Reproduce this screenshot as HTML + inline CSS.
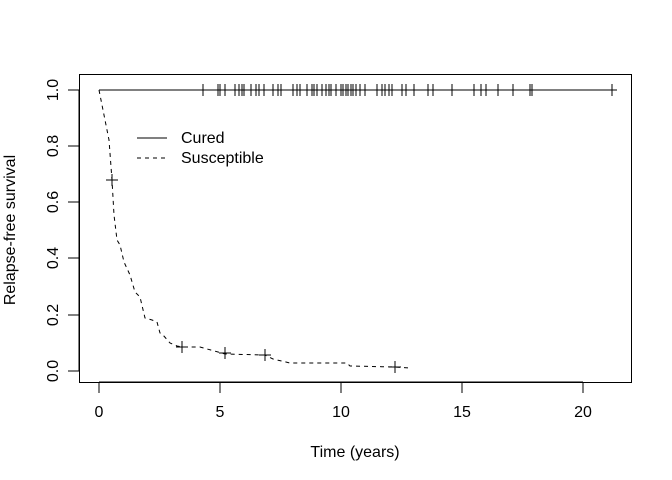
<!DOCTYPE html>
<html><head><style>body{margin:0;background:#fff}svg{display:block}text{font-family:"Liberation Sans",sans-serif;font-size:16px;fill:#000}</style></head><body>
<svg width="672" height="480" viewBox="0 0 672 480">
<rect x="79.5" y="74.5" width="552" height="308" fill="none" stroke="#000" stroke-width="1"/>
<g stroke="#000" stroke-width="1">
<line x1="99" y1="382" x2="583" y2="382"/>
<line x1="99" y1="382" x2="99" y2="393"/><line x1="220" y1="382" x2="220" y2="393"/><line x1="341" y1="382" x2="341" y2="393"/><line x1="462" y1="382" x2="462" y2="393"/><line x1="583" y1="382" x2="583" y2="393"/>
<line x1="79" y1="90" x2="79" y2="371"/>
<line x1="68" y1="90" x2="79" y2="90"/><line x1="68" y1="146" x2="79" y2="146"/><line x1="68" y1="202" x2="79" y2="202"/><line x1="68" y1="258" x2="79" y2="258"/><line x1="68" y1="315" x2="79" y2="315"/><line x1="68" y1="371" x2="79" y2="371"/>
</g>
<g text-anchor="middle">
<text x="99" y="417">0</text><text x="220" y="417">5</text><text x="341" y="417">10</text><text x="462" y="417">15</text><text x="583" y="417">20</text>
<text x="355" y="457">Time (years)</text>
</g>
<g text-anchor="middle">
<text transform="translate(58,90) rotate(-90)">1.0</text>
<text transform="translate(58,146) rotate(-90)">0.8</text>
<text transform="translate(58,202) rotate(-90)">0.6</text>
<text transform="translate(58,258) rotate(-90)">0.4</text>
<text transform="translate(58,315) rotate(-90)">0.2</text>
<text transform="translate(58,371) rotate(-90)">0.0</text>
<text transform="translate(15,230) rotate(-90)">Relapse-free survival</text>
</g>
<line x1="99" y1="90" x2="617" y2="90" stroke="#000" stroke-width="1"/>
<g stroke="#000" stroke-width="1">
<path d="M203 84v12M218 84v12M220 84v12M225 84v12M235 84v12M239 84v12M242 84v12M244 84v12M251 84v12M256 84v12M259 84v12M264 84v12M273 84v12M278 84v12M281 84v12M293 84v12M297 84v12M300 84v12M307 84v12M312 84v12M314 84v12M317 84v12M322 84v12M326 84v12M329 84v12M331 84v12M336 84v12M341 84v12M343 84v12M346 84v12M348 84v12M351 84v12M353 84v12M356 84v12M360 84v12M365 84v12M377 84v12M382 84v12M385 84v12M389 84v12M392 84v12M402 84v12M406 84v12M414 84v12M428 84v12M433 84v12M452 84v12M474 84v12M481 84v12M486 84v12M498 84v12M513 84v12M530 84v12M532 84v12M612 84v12"/>
</g>
<polyline fill="none" stroke="#000" stroke-width="1" stroke-dasharray="4,4" points="99,90 105,120 109,140 112,180 114,215 117,240 120,245 124,262 130,275 135,292 140,297 145,318 152,320 157,322 160,333 163,335 170,343 177,346 182,347 200,347 218,352 225,354 265,355 273,359 290,363 347,363 350,366 395,367 410,368"/>
<g stroke="#000" stroke-width="1">
<path d="M106 180h12M112 174v12"/>
<path d="M176 347h12M182 341v12"/>
<path d="M219 353h12M225 347v12"/>
<path d="M259 355h12M265 349v12"/>
<path d="M389 367h12M395 361v12"/>
</g>
<line x1="137" y1="138" x2="167" y2="138" stroke="#000"/>
<line x1="137" y1="158" x2="167" y2="158" stroke="#000" stroke-dasharray="4,4"/>
<text x="181" y="143">Cured</text>
<text x="181" y="163">Susceptible</text>
</svg>
</body></html>
